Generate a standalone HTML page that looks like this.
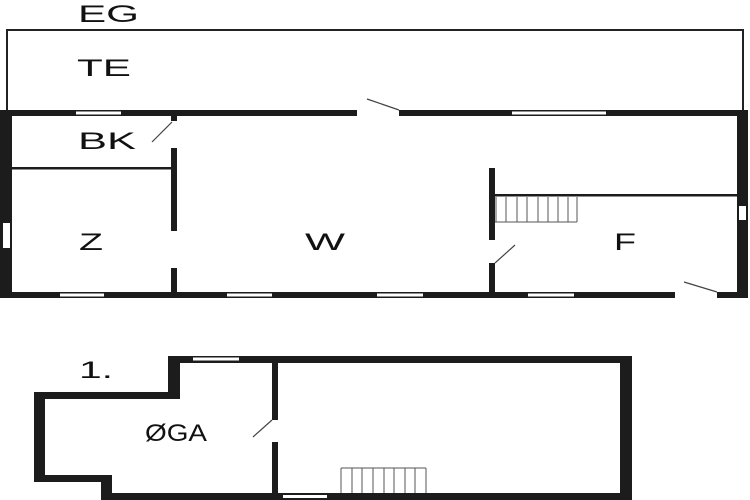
<!DOCTYPE html>
<html><head><meta charset="utf-8"><style>
html,body{margin:0;padding:0;background:#fff;}
svg{display:block;}
text{font-family:"Liberation Sans",sans-serif;fill:#111;font-size:24px;}
</style></head><body>
<svg width="750" height="500" viewBox="0 0 750 500" xmlns="http://www.w3.org/2000/svg">
<rect width="750" height="500" fill="#fff"/>
<!-- TE outline -->
<path d="M7,110 V30 H743 V110" fill="none" stroke="#222" stroke-width="2"/>
<g fill="#1c1c1c">
<!-- ground floor outer walls -->
<rect x="0" y="110" width="357" height="6"/>
<rect x="399" y="110" width="349" height="6"/>
<rect x="0" y="110" width="12" height="188"/>
<rect x="737" y="110" width="11" height="188"/>
<rect x="0" y="292" width="675" height="6"/>
<rect x="717" y="292" width="31" height="6"/>
<!-- interior -->
<rect x="12" y="167" width="160" height="2.5"/>
<rect x="171" y="116" width="6" height="5"/>
<rect x="171" y="148" width="6" height="83"/>
<rect x="171" y="268" width="6" height="25"/>
<rect x="489" y="168" width="6" height="72"/>
<rect x="489" y="263" width="6" height="30"/>
<rect x="495" y="194" width="243" height="2.5"/>
</g>
<!-- windows -->
<g fill="#fff">
<rect x="76" y="111.5" width="45" height="3"/>
<rect x="512" y="111.5" width="94" height="3"/>
<rect x="60" y="293.5" width="44" height="3"/>
<rect x="227" y="293.5" width="45" height="3"/>
<rect x="377" y="293.5" width="46" height="3"/>
<rect x="528" y="293.5" width="46" height="3"/>
<rect x="3" y="223" width="7" height="25"/>
<rect x="739" y="206" width="7" height="14"/>
</g>
<!-- door swings -->
<g stroke="#444" stroke-width="1.2">
<line x1="367" y1="99" x2="399" y2="110"/>
<line x1="152" y1="142" x2="172" y2="122"/>
<line x1="495" y1="263" x2="515" y2="245"/>
<line x1="684" y1="282" x2="717" y2="292"/>
<line x1="253" y1="437" x2="272" y2="420"/>
</g>
<!-- stairs top -->
<g stroke="#555" stroke-width="1" fill="none">
<path d="M495,222 H577"/>
<path d="M496,197V222M506,197V222M517,197V222M527,197V222M538,197V222M548,197V222M558,197V222M568,197V222M577,197V222"/>
<path d="M341,468 H426"/>
<path d="M341,468V493M352,468V493M362,468V493M373,468V493M384,468V493M394,468V493M405,468V493M415,468V493M426,468V493"/>
</g>
<!-- first floor -->
<path d="M168,356 H632 V500 H101 V482 H34 V392 H168 Z M180,363 V399 H45 V475 H112 V493 H620 V363 Z" fill="#1c1c1c" fill-rule="evenodd"/>
<g fill="#1c1c1c">
<rect x="272" y="363" width="6" height="57"/>
<rect x="272" y="442" width="6" height="51"/>
</g>
<g fill="#fff">
<rect x="193" y="357.5" width="46" height="3"/>
<rect x="283" y="495" width="44" height="3"/>
</g>
<!-- labels -->
<text x="78" y="22" textLength="61" lengthAdjust="spacingAndGlyphs">EG</text>
<text x="77" y="76" textLength="54" lengthAdjust="spacingAndGlyphs">TE</text>
<text x="78" y="149" textLength="58" lengthAdjust="spacingAndGlyphs">BK</text>
<text x="79" y="250" textLength="24" lengthAdjust="spacingAndGlyphs">Z</text>
<text x="305" y="250" textLength="40" lengthAdjust="spacingAndGlyphs">W</text>
<text x="614" y="250" textLength="22" lengthAdjust="spacingAndGlyphs">F</text>
<text x="79" y="378" textLength="34" lengthAdjust="spacingAndGlyphs">1.</text>
<text x="145" y="441" textLength="62" lengthAdjust="spacingAndGlyphs">ØGA</text>
</svg>
</body></html>
